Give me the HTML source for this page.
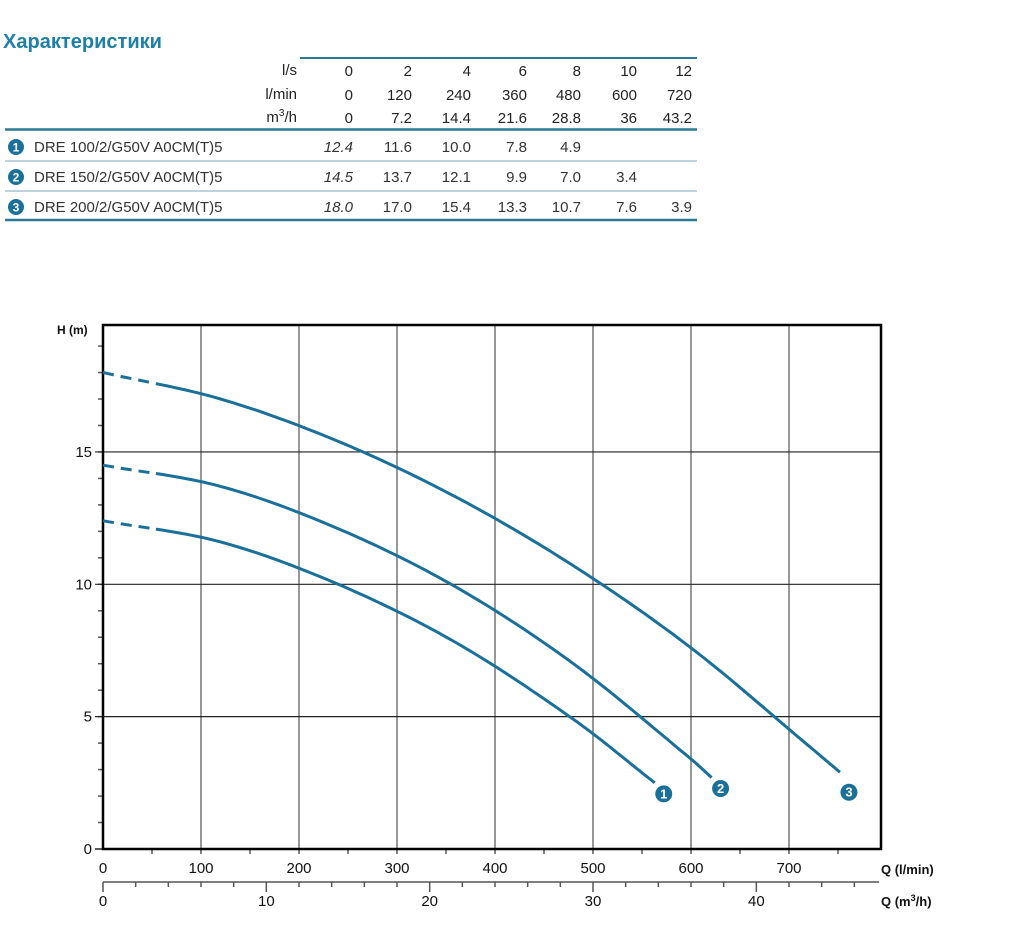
<!DOCTYPE html>
<html><head><meta charset="utf-8">
<style>
html,body{margin:0;padding:0;background:#fff;}
svg{display:block;font-family:"Liberation Sans",sans-serif;}
</style></head>
<body>
<svg id="root" width="1019" height="935" viewBox="0 0 1019 935">
<text x="3" y="48" font-size="20" font-weight="bold" fill="#1e7fa8" textLength="159" lengthAdjust="spacingAndGlyphs">Характеристики</text>
<g id="table"></g>
<g id="chart"></g>
</svg>
<script>
const NS='http://www.w3.org/2000/svg';
const lsVals=['0','2','4','6','8','10','12'];
const lminVals=['0','120','240','360','480','600','720'];
const m3hVals=['0','7.2','14.4','21.6','28.8','36','43.2'];
const models=['DRE 100/2/G50V A0CM(T)5','DRE 150/2/G50V A0CM(T)5','DRE 200/2/G50V A0CM(T)5'];
const tRow1=['12.4','11.6','10.0','7.8','4.9','',''];
const tRow2=['14.5','13.7','12.1','9.9','7.0','3.4',''];
const tRow3=['18.0','17.0','15.4','13.3','10.7','7.6','3.9'];
// curve data: flow (l/min) and head (m)
const q1=[0,120,240,360,480,563];
const h1=[12.4,11.6,10.0,7.8,4.9,2.5];
const q2=[0,120,240,360,480,600,621];
const h2=[14.5,13.7,12.1,9.9,7.0,3.4,2.7];
const q3=[0,120,240,360,480,600,720,752];
const h3=[18.0,17.0,15.4,13.3,10.7,7.6,3.9,2.9];
const xTicks=[0,100,200,300,400,500,600,700];
const yTicks=[0,5,10,15];
const m3Ticks=[0,10,20,30,40];

function el(tag,attrs,parent,txt){const e=document.createElementNS(NS,tag);for(const k in attrs)e.setAttribute(k,attrs[k]);if(txt!==undefined)e.textContent=txt;parent.appendChild(e);return e;}
const T=document.getElementById('table');
const colX=[353,412,471,527,581,637,692];
const blue='#1a7099';
el('line',{x1:300,y1:58,x2:697,y2:58,stroke:'#2b7a95','stroke-width':2},T);
el('line',{x1:5,y1:129.5,x2:697,y2:129.5,stroke:'#2b7a95','stroke-width':2.5},T);
el('line',{x1:5,y1:161,x2:697,y2:161,stroke:'#7aaabb','stroke-width':1},T);
el('line',{x1:5,y1:191,x2:697,y2:191,stroke:'#7aaabb','stroke-width':1},T);
el('line',{x1:5,y1:220,x2:697,y2:220,stroke:'#2b7a95','stroke-width':2.5},T);
const hdr=[['l/s',lsVals,76],['l/min',lminVals,100],['m³/h',m3hVals,123]];
hdr.forEach((h,i)=>{
  let t=el('text',{x:297,y:h[2]-1,'font-size':15,'text-anchor':'end',fill:'#222'},T);
  
  if(i===2){el('tspan',{},t,'m');el('tspan',{dy:-6,'font-size':10},t,'3');el('tspan',{dy:6},t,'/h');}else t.textContent=h[0];
  h[1].forEach((v,j)=>{const c=el('text',{x:colX[j],y:h[2],'font-size':15,'text-anchor':'end',fill:'#222'},T,v);
    });
});
const rows=[tRow1,tRow2,tRow3];
rows.forEach((r,i)=>{
  const y=152+i*30;
  const g=el('g',{},T);
  
  el('circle',{cx:16,cy:y-5,r:8,fill:blue},g);
  el('text',{x:16,y:y-0.5,'font-size':12,'font-weight':'bold','text-anchor':'middle',fill:'#fff'},g,String(i+1));
  el('text',{x:34,y:y,'font-size':15,fill:'#333'},g,models[i]);
  r.forEach((v,j)=>{if(v)el('text',{x:colX[j],y:y,'font-size':15,'text-anchor':'end',fill:'#333','font-style':j===0?'italic':'normal'},g,v);});
});

// chart
const C=document.getElementById('chart');
const X0=103,PX=0.98,Y0=849,PY=26.47,XR=881,YT=325;
const sx=q=>X0+q*PX, sy=h=>Y0-h*PY;
for(let q=50;q<800;q+=50){el('line',{x1:sx(q),y1:Y0,x2:sx(q),y2:Y0+5,stroke:'#555','stroke-width':1.5},C);}
for(let h=1;h<20;h++){el('line',{x1:X0-5,y1:sy(h),x2:X0,y2:sy(h),stroke:'#555','stroke-width':1.5},C);}
xTicks.forEach(q=>{
  if(q>0){const l=el('line',{x1:sx(q),y1:YT,x2:sx(q),y2:Y0,stroke:'#777','stroke-width':1.5},C);
    }
  const t=el('text',{x:sx(q),y:Y0+24,'font-size':15,'text-anchor':'middle',fill:'#111'},C,String(q));
  
});
yTicks.forEach(h=>{
  if(h>0){const l=el('line',{x1:X0-8,y1:sy(h),x2:XR,y2:sy(h),stroke:'#222','stroke-width':1.2},C);
    }
  const t=el('text',{x:X0-11,y:sy(h)+5,'font-size':15,'text-anchor':'end',fill:'#111'},C,String(h));
  
});
el('line',{x1:X0-8,y1:Y0,x2:X0,y2:Y0,stroke:'#222','stroke-width':1.5},C);
const fr=el('rect',{x:X0,y:YT,width:XR-X0,height:Y0-YT,fill:'none',stroke:'#000','stroke-width':2.5},C);

let t=el('text',{x:57,y:334,'font-size':12,'font-weight':'bold',fill:'#111'},C,'H (m)');

t=el('text',{x:881,y:874,'font-size':13,'font-weight':'bold',fill:'#111'},C,'Q (l/min)');

// m3/h axis
const AY=882, sm=m=>X0+m*1000/60*PX;
el('line',{x1:X0,y1:AY,x2:XR-2,y2:AY,stroke:'#555','stroke-width':1.5},C);
for(let m=0;m<=46;m+=2){const big=m%10===0;el('line',{x1:sm(m),y1:AY,x2:sm(m),y2:AY+(big?10:5),stroke:'#555','stroke-width':1.5},C);}
m3Ticks.forEach(m=>{const tt=el('text',{x:sm(m),y:AY+24,'font-size':15,'text-anchor':'middle',fill:'#111'},C,String(m));
  });
t=el('text',{x:881,y:906,'font-size':13,'font-weight':'bold',fill:'#111'},C);

el('tspan',{},t,'Q (m');el('tspan',{'font-size':9,dy:-5},t,'3');el('tspan',{dy:5},t,'/h)');

function spline(qs,hs){
  const n=qs.length,pts=[];
  const m=[];for(let i=0;i<n;i++){if(i===0)m.push((hs[1]-hs[0])/(qs[1]-qs[0]));else if(i===n-1)m.push((hs[n-1]-hs[n-2])/(qs[n-1]-qs[n-2]));else m.push((hs[i+1]-hs[i-1])/(qs[i+1]-qs[i-1]));}
  for(let i=0;i<n-1;i++){const d=qs[i+1]-qs[i];for(let k=0;k<20;k++){const s=k/20,s2=s*s,s3=s2*s;
    const h=(2*s3-3*s2+1)*hs[i]+(s3-2*s2+s)*d*m[i]+(-2*s3+3*s2)*hs[i+1]+(s3-s2)*d*m[i+1];pts.push([qs[i]+s*d,h]);}}
  pts.push([qs[n-1],hs[n-1]]);return pts;
}
const curves=[[q1,h1],[q2,h2],[q3,h3]];
const markerDy=[11,11,20];
curves.forEach((c,i)=>{
  const pts=spline(c[0],c[1]);
  const dash=pts.filter(p=>p[0]<=54),sol=pts.filter(p=>p[0]>=54);
  const toD=a=>a.map((p,j)=>(j?'L':'M')+sx(p[0]).toFixed(1)+','+sy(p[1]).toFixed(1)).join('');
  const g=el('g',{},C);
  
  el('path',{d:toD(dash),fill:'none',stroke:blue,'stroke-width':3,'stroke-dasharray':'11,7'},g);
  el('path',{d:toD(sol),fill:'none',stroke:blue,'stroke-width':3},g);
  const last=c[0].length-1;
  const mx=sx(c[0][last])+9, my=sy(c[1][last])+markerDy[i];
  el('circle',{cx:mx,cy:my,r:8.5,fill:blue},g);
  el('text',{x:mx,y:my+4.5,'font-size':13,'font-weight':'bold','text-anchor':'middle',fill:'#fff'},g,String(i+1));
});
</script>
</body></html>
